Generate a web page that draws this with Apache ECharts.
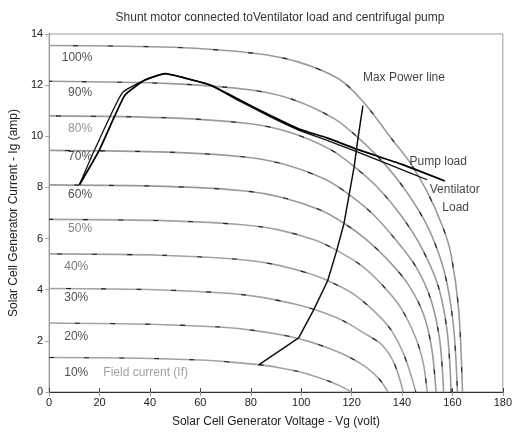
<!DOCTYPE html>
<html>
<head>
<meta charset="utf-8">
<script src="https://cdn.jsdelivr.net/npm/echarts@6/dist/echarts.min.js"></script>
<style>
  html, body { margin: 0; padding: 0; background: #fff; }
  #chart { width: 515px; height: 437px; }
</style>
</head>
<body>
<div id="chart"></div>
<script>
// solar generator I-V curves, one per field current level, [volt, amp]
const curve10 = [[0,1.35],[36,1.32],[60,1.25],[72,1.17],[84,1.06],[91.2,0.95],[98.4,0.81],[105.6,0.61],[111.6,0.40],[116.4,0.19],[120,0]]
const curve20 = [[0,2.7],[40.5,2.65],[67.5,2.54],[81,2.41],[94.5,2.19],[102.6,1.99],[110.7,1.72],[118.8,1.38],[125.6,0.98],[131,0.5],[134.5,0]]
const curve30 = [[0,4.05],[42.6,4.0],[71,3.86],[85.2,3.69],[99.4,3.39],[107.9,3.14],[116.4,2.8],[125,2.3],[132,1.85],[137,1.1],[140.5,0]]
const curve40 = [[0,5.4],[44.1,5.35],[73.5,5.20],[88.2,5.01],[102.9,4.64],[111.7,4.3],[120.5,3.85],[128.5,3.2],[135.5,2.45],[141,1.4],[145.5,0]]
const curve50 = [[0,6.75],[45.3,6.70],[75.5,6.55],[90.6,6.35],[105.7,5.93],[114.8,5.5],[123.8,4.95],[132,4.2],[139.5,3.3],[145.5,2.1],[148.5,1.1],[150,0]]
const curve60 = [[0,8.1],[46.2,8.04],[77,7.87],[92.4,7.61],[107.8,7.11],[117,6.6],[126,5.95],[135,5.1],[142.5,4.2],[148.5,3.05],[151.8,1.7],[153.5,0]]
const curve70 = [[0,9.45],[47.1,9.38],[78.5,9.18],[94.2,8.88],[109.9,8.30],[119.3,7.7],[128.5,6.95],[137.5,5.95],[145.5,4.9],[151.5,3.6],[155,2.0],[156.5,0]]
const curve80 = [[0,10.8],[47.9,10.72],[79.8,10.49],[95.7,10.15],[111.7,9.48],[121.2,8.8],[130.8,7.95],[140,6.85],[148,5.6],[154.5,4.1],[158,2.3],[159.5,0]]
const curve90 = [[0,12.15],[48.6,12.06],[81,11.80],[97.2,11.42],[113.4,10.67],[123.1,9.9],[132.8,8.95],[142,7.8],[150.5,6.4],[156.8,4.7],[160.4,2.6],[162,0]]
const curve100 = [[0,13.55],[49.2,13.48],[82,13.24],[98.4,12.92],[114.8,12.25],[124.6,11.35],[136.3,9.85],[143,9.0],[149.6,7.9],[156,6.5],[159.4,5.4],[162.5,3.2],[164,0]]

// load characteristics
const pumpLoad = [[12,8.1],[19.9,9.46],[30,11.6],[38,12.2],[46,12.45],[55,12.25],[64,12.0],[76,11.4],[88,10.8],[100,10.25],[110,9.95],[122,9.5],[140,8.9],[157,8.25]]
const ventLoad = [[12,8.1],[18,9.46],[29,11.7],[38,12.2],[46,12.45],[55,12.25],[64,12.0],[76,11.35],[88,10.75],[100,10.2],[110,9.85],[122,9.4],[136,8.85],[150,8.3]]
const maxPower = [[83,1.05],[99,2.12],[105,3.22],[110.5,4.35],[114,5.5],[117,6.6],[119,7.7],[121,8.8],[122.5,9.9],[124.5,11.2]]

const fieldLevels = ['10%','20%','30%','40%','50%','60%','70%','80%','90%','100%']
const xTicks = [0,20,40,60,80,100,120,140,160,180]
const yTicks = [0,2,4,6,8,10,12,14]

const curves = [curve10,curve20,curve30,curve40,curve50,curve60,curve70,curve80,curve90,curve100]

// text placed on the plot, [text, volt, amp, color]
const notes = [
    ['10%', 6, 0.74, '#222'], ['20%', 6, 2.15, '#222'], ['30%', 6, 3.7, '#222'],
    ['40%', 6, 4.9, '#555'], ['50%', 7.5, 6.4, '#666'], ['60%', 7.5, 7.7, '#222'],
    ['70%', 7.5, 9.2, '#222'], ['80%', 7.5, 10.3, '#777'], ['90%', 7.5, 11.7, '#222'],
    ['100%', 5, 13.06, '#222'], ['Field current (If)', 21.5, 0.74, '#888'],
    ['Max Power line', 124.5, 12.3, '#111'], ['Pump load', 143, 9.0, '#111'],
    ['Ventilator', 151, 7.9, '#111'], ['Load', 156, 7.2, '#111']
]

const chart = echarts.init(document.getElementById('chart'))

const series = []
curves.forEach((c, idx) => {
    series.push({
        name: fieldLevels[idx],
        type: 'line',
        data: c,
        smooth: 0.3,
        showSymbol: false,
        silent: true,
        lineStyle: { color: idx < 5 ? '#a2a2a2' : '#9a9a9a', width: 1.6 },
        z: 2
    })
    // scanned dark flecks along each curve
    series.push({
        type: 'line',
        data: c,
        smooth: 0.3,
        showSymbol: false,
        silent: true,
        lineStyle: { color: '#222', width: 1.1, type: [5, 30], dashOffset: idx * 9 },
        z: 3
    })
})

series.push({
    name: 'Ventilator load', type: 'line', data: ventLoad, smooth: 0.15, showSymbol: false,
    lineStyle: { color: '#111', width: 1.3 }, z: 5
})
series.push({
    name: 'Pump load', type: 'line', data: pumpLoad, smooth: 0.15, showSymbol: false,
    lineStyle: { color: '#000', width: 1.8 }, z: 5
})
series.push({
    name: 'Max Power line', type: 'line', data: maxPower, showSymbol: false,
    lineStyle: { color: '#111', width: 1.5 }, z: 5
})
series.push({
    type: 'scatter',
    symbolSize: 0,
    silent: true,
    data: notes.map(n => ({
        value: [n[1], n[2]],
        label: { show: true, position: 'right', distance: 0, formatter: n[0], color: n[3] }
    })),
    label: { fontFamily: 'Liberation Sans', fontSize: 12 },
    z: 6
})

const labelFont = { fontFamily: 'Liberation Sans', fontSize: 11, color: '#222' }
const nameFont = { fontFamily: 'Liberation Sans', fontSize: 12, color: '#222' }

chart.setOption({
    animation: false,
    backgroundColor: '#fff',
    title: {
        text: 'Shunt motor connected toVentilator load and centrifugal pump',
        left: 275,
        textAlign: 'center',
        top: 7,
        textStyle: { fontFamily: 'Liberation Sans', fontSize: 12, fontWeight: 'normal', color: '#333' }
    },
    grid: { left: 44, right: 9, top: 34, bottom: 45, show: true, borderColor: '#999', borderWidth: 1 },
    xAxis: [{
        type: 'value', min: xTicks[0], max: xTicks[xTicks.length - 1], interval: 20,
        name: 'Solar Cell Generator Voltage - Vg (volt)',
        nameLocation: 'middle', nameGap: 24,
        nameTextStyle: nameFont,
        axisLine: { lineStyle: { color: '#555' } },
        axisTick: { inside: true, length: 4, lineStyle: { color: '#444' } },
        axisLabel: Object.assign({ margin: 5 }, labelFont),
        splitLine: { show: false }
    }, {
        type: 'value', position: 'top', min: xTicks[0], max: xTicks[xTicks.length - 1], interval: 20,
        axisLine: { lineStyle: { color: '#333' } },
        axisTick: { inside: true, length: 4, lineStyle: { color: '#999' } },
        axisLabel: { show: false },
        splitLine: { show: false }
    }],
    yAxis: [{
        type: 'value', min: yTicks[0], max: yTicks[yTicks.length - 1], interval: 2,
        name: 'Solar Cell Generator Current - Ig (amp)',
        nameLocation: 'middle', nameGap: 27,
        nameTextStyle: nameFont,
        axisLine: { lineStyle: { color: '#555' } },
        axisTick: { inside: false, length: 3, lineStyle: { color: '#444' } },
        axisLabel: Object.assign({ margin: 6 }, labelFont),
        splitLine: { show: false }
    }, {
        type: 'value', position: 'right', min: yTicks[0], max: yTicks[yTicks.length - 1], interval: 2,
        axisLine: { show: true, lineStyle: { color: '#999' } },
        axisTick: { inside: true, length: 4, lineStyle: { color: '#aaa' } },
        axisLabel: { show: false },
        splitLine: { show: false }
    }],
    series
})
</script>
</body>
</html>
